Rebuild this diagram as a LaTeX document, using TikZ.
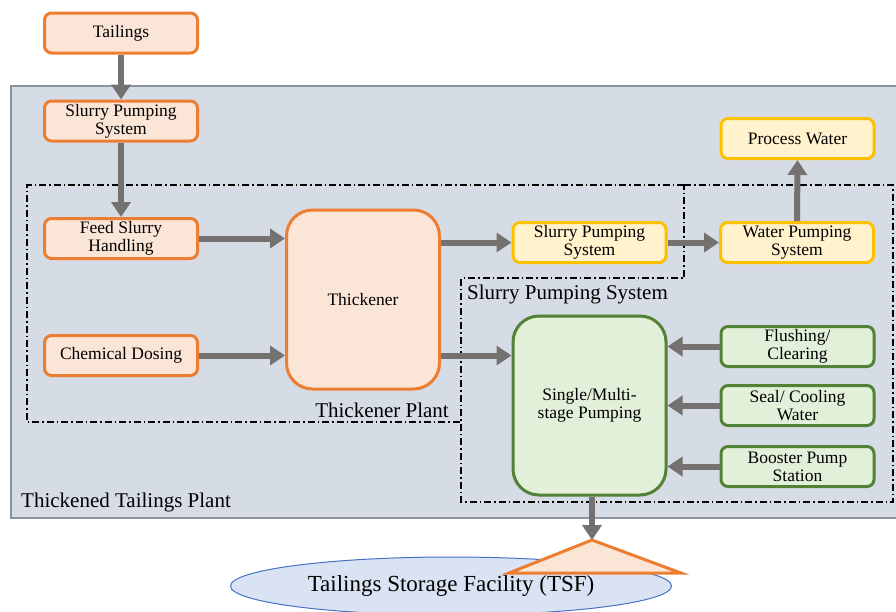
\documentclass[tikz,border=0pt]{standalone}
\usepackage{fontspec}
\setmainfont{Liberation Serif}
\usetikzlibrary{arrows.meta,shapes.geometric,calc}
\definecolor{oB}{HTML}{ED7D31}
\definecolor{oF}{HTML}{FBE5D6}
\definecolor{yB}{HTML}{FFC000}
\definecolor{yF}{HTML}{FFF2CC}
\definecolor{gB}{HTML}{538135}
\definecolor{gF}{HTML}{E2F0D9}
\definecolor{arr}{HTML}{767171}
\definecolor{bgF}{HTML}{D6DCE5}
\definecolor{bgB}{HTML}{8C939E}
\definecolor{elF}{HTML}{DAE3F3}
\definecolor{elB}{HTML}{4472C4}
\tikzset{
  box/.style={draw, line width=3pt, rounded corners=7pt, minimum width=153pt, minimum height=40pt, align=center, inner sep=1pt, font=\fontsize{17.5}{18}\selectfont},
  obox/.style={box, draw=oB, fill=oF},
  ybox/.style={box, draw=yB, fill=yF},
  gbox/.style={box, draw=gB, fill=gF},
  bigbox/.style={minimum height=179pt, rounded corners=26pt},
  flow/.style={draw=arr, line width=6pt, -{Triangle[width=19pt,length=15pt]}},
  dd/.style={draw=black, line width=1.4pt, dash pattern=on 7pt off 3pt on 1.5pt off 3pt},
  lbl/.style={font=\fontsize{21}{22}\selectfont, inner sep=0pt}
}
\begin{document}
\begin{tikzpicture}[x=1pt,y=-1pt]
\useasboundingbox (0,0) rectangle (896,611);
\fill[white] (0,0) rectangle (896,611);
% outer plant
\draw[fill=bgF, draw=bgB, line width=1.5pt] (11,86) rectangle (899,518);
% dash-dot regions
\draw[dd] (684,185) -- (27,185) -- (27,422) -- (461,422) -- (461,278) -- (684,278) -- cycle;
\draw[dd] (684,185) -- (893,185) -- (893,502) -- (461,502) -- (461,422);
% labels
\node[lbl, anchor=west] (ltt) at (21,502) {Thickened Tailings Plant};
\node[lbl, anchor=east] (ltp) at (449,410) {Thickener Plant};
\node[lbl, anchor=west] (lsp) at (467,294) {Slurry Pumping System};
% nodes
\node[obox] (tail) at (121,33) {Tailings};
\node[obox] (sps1) at (121,121) {Slurry Pumping\\System};
\node[obox] (feed) at (121,238.5) {Feed Slurry\\Handling};
\node[obox] (chem) at (121,355.5) {Chemical Dosing};
\node[obox, bigbox] (thick) at (363,299.5) {Thickener};
\node[ybox] (sps2) at (589.5,242.5) {Slurry Pumping\\System};
\node[ybox] (wps) at (797,242.5) {Water Pumping\\System};
\node[ybox] (pw) at (797.5,138.5) {Process Water};
\node[gbox, bigbox] (smp) at (589.5,405.5) {Single/Multi-\\stage Pumping};
\node[gbox] (flush) at (797.5,346.5) {Flushing/\\Clearing};
\node[gbox] (seal) at (797.5,405.5) {Seal/ Cooling\\Water};
\node[gbox] (boost) at (797.5,466.5) {Booster Pump\\Station};
% TSF
\node[ellipse, draw=elB, fill=elF, line width=1pt, minimum width=441pt, minimum height=58pt, font=\fontsize{23}{24}\selectfont] (tsf) at (451,586) {Tailings Storage Facility (TSF)};
\coordinate (apex) at (592,540);
\coordinate (bl) at (509,573);
\coordinate (br) at (681,573);
\draw[draw=oB, fill=oF, line width=3pt, line join=miter] (apex) -- (bl) -- (br) -- cycle;
% flows
\draw[flow] (tail.south) -- (sps1.north);
\draw[flow] (sps1.south) -- (feed.north);
\draw[flow] (feed.east) -- (feed.east -| thick.west);
\draw[flow] (chem.east) -- (chem.east -| thick.west);
\draw[flow] (thick.east |- sps2.west) -- (sps2.west);
\draw[flow] (sps2.east) -- (wps.west);
\draw[flow] (wps.north) -- (pw.south);
\draw[flow] (thick.east |- chem.east) -- (smp.west |- chem.east);
\draw[flow] (flush.west) -- (flush.west -| smp.east);
\draw[flow] (seal.west) -- (seal.west -| smp.east);
\draw[flow] (boost.west) -- (boost.west -| smp.east);
\draw[flow] (smp.south -| apex) -- (apex);
\end{tikzpicture}
\end{document}
